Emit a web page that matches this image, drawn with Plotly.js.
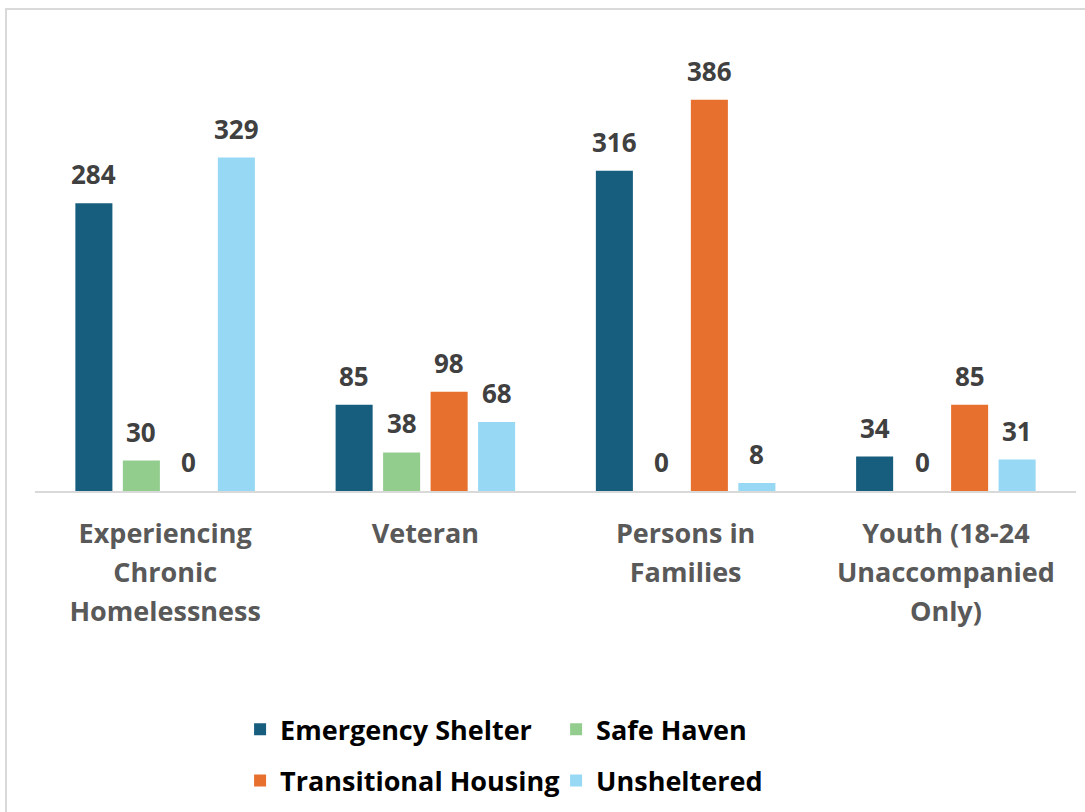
<!DOCTYPE html>
<html>
<head>
<meta charset="utf-8">
<script src="https://cdn.plot.ly/plotly-3.0.1.min.js"></script>
<style>
  html, body { margin: 0; padding: 0; background: #ffffff; }
  #wrap { position: relative; width: 1085px; height: 812px; overflow: hidden; }
  #chart { position: absolute; left: 0; top: 0; width: 1085px; height: 812px; }
  #frame { position: absolute; left: 5px; top: 8px; width: 1200px; height: 900px;
           border-left: 2px solid #d9d9d9; border-top: 2px solid #d9d9d9; pointer-events: none; }
</style>
</head>
<body>
<div id="wrap">
  <div id="chart"></div>
  <div id="frame"></div>
</div>
<script>
const categories = [
  "Experiencing Chronic Homelessness",
  "Veteran",
  "Persons in Families",
  "Youth (18-24 Unaccompanied Only)"
];
const tickLabels = [
  ["Experiencing", "Chronic", "Homelessness"],
  ["Veteran"],
  ["Persons in", "Families"],
  ["Youth (18-24", "Unaccompanied", "Only)"]
];
const seriesNames = ["Emergency Shelter", "Safe Haven", "Transitional Housing", "Unsheltered"];
const emergencyShelter = [284, 85, 316, 34];
const safeHaven = [30, 38, 0, 0];
const transitionalHousing = [0, 98, 386, 85];
const unsheltered = [329, 68, 8, 31];

const seriesValues = [emergencyShelter, safeHaven, transitionalHousing, unsheltered];
const colors = ["#175e7e", "#93cd8e", "#e8702f", "#97d9f5"];
const legendIds = ["legend", "legend", "legend2", "legend2"];

const FONT = "'Open Sans', 'Noto Sans', sans-serif";

const traces = seriesValues.map((vals, i) => ({
  type: "bar",
  name: seriesNames[i],
  x: categories,
  y: vals,
  marker: { color: colors[i] },
  legend: legendIds[i],
  hoverinfo: "none"
}));

const tickText = tickLabels.map(lines =>
  lines.map(l => '<span style="font-size:27px">' + l + '</span>').join("<br>")
);

const slot = 47.45;
const annotations = [];
seriesValues.forEach((vals, i) => {
  vals.forEach((v, j) => {
    annotations.push({
      x: categories[j], y: v, xref: "x", yref: "y",
      text: String(v), showarrow: false,
      xanchor: "center", yanchor: "bottom",
      xshift: (i - 1.5) * slot, yshift: 9,
      font: { family: FONT, size: 26, color: "#404040", weight: 700 }
    });
  });
});

const legendFont = { family: FONT, size: 27, color: "#000000", weight: 700 };

const layout = {
  width: 1085, height: 812,
  margin: { l: 35, r: 9, t: 40, b: 320 },
  paper_bgcolor: "#ffffff", plot_bgcolor: "#ffffff",
  barmode: "group", bargap: 0.27, bargroupgap: 0.22,
  showlegend: true,
  xaxis: {
    type: "category",
    tickmode: "array", tickvals: categories, ticktext: tickText,
    showline: true, linecolor: "#d9d9d9", linewidth: 2,
    showgrid: false, zeroline: false, ticks: "",
    ticklabelstandoff: 14,
    tickfont: { family: FONT, size: 30, color: "#595959", weight: 700 }
  },
  yaxis: {
    range: [0, 445], visible: false, showgrid: false, zeroline: false
  },
  legend: {
    orientation: "h", x: 0.197, xanchor: "left", y: -0.526, yanchor: "middle",
    entrywidth: 271, entrywidthmode: "pixels",
    font: legendFont, bgcolor: "rgba(0,0,0,0)"
  },
  legend2: {
    orientation: "h", x: 0.197, xanchor: "left", y: -0.639, yanchor: "middle",
    entrywidth: 271, entrywidthmode: "pixels",
    font: legendFont, bgcolor: "rgba(0,0,0,0)"
  },
  annotations: annotations
};

Plotly.newPlot("chart", traces, layout, { staticPlot: true, displayModeBar: false });
</script>
</body>
</html>
